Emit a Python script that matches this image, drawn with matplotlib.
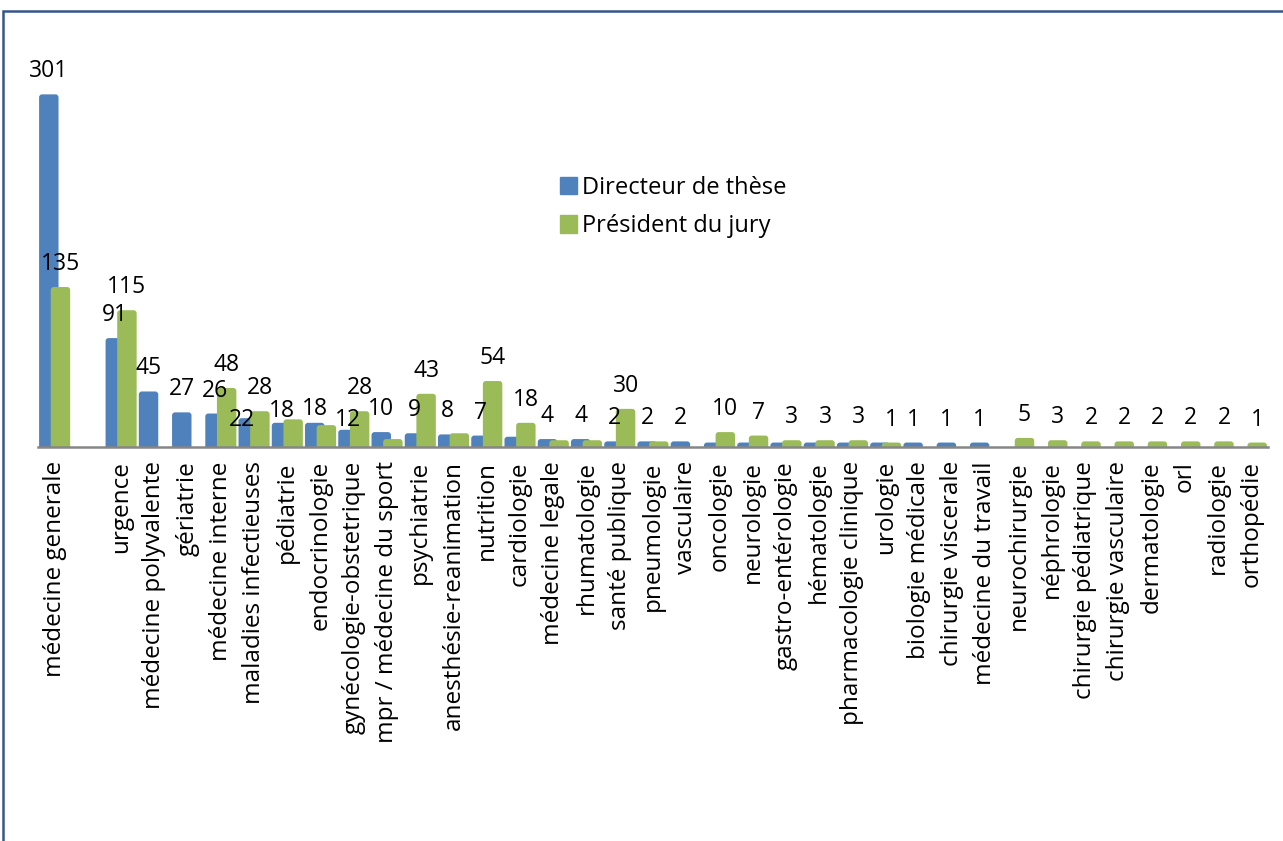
import numpy as np
import matplotlib
matplotlib.use("Agg")
import matplotlib.pyplot as plt
from matplotlib.patches import Rectangle, FancyBboxPatch

# ---------------- data ----------------
categories = ["médecine generale", "", "urgence", "médecine polyvalente", "gériatrie",
              "médecine interne", "maladies infectieuses", "pédiatrie", "endocrinologie",
              "gynécologie-obstetrique", "mpr / médecine du sport", "psychiatrie",
              "anesthésie-reanimation", "nutrition", "cardiologie", "médecine legale",
              "rhumatologie", "santé publique", "pneumologie", "vasculaire", "oncologie",
              "neurologie", "gastro-entérologie", "hématologie", "pharmacologie clinique",
              "urologie", "biologie médicale", "chirurgie viscerale", "médecine du travail",
              "neurochirurgie", "néphrologie", "chirurgie pédiatrique", "chirurgie vasculaire",
              "dermatologie", "orl", "radiologie", "orthopédie"]
directeur = [301, 0, 91, 45, 27, 26, 22, 18, 18, 12, 10, 9, 8, 7, 6, 4, 4, 2, 2, 2,
             1, 1, 1, 1, 1, 1, 1, 1, 1, 0, 0, 0, 0, 0, 0, 0, 0]
president = [135, 0, 115, 0, 0, 48, 28, 21, 16, 28, 4, 43, 9, 54, 18, 3, 3, 30, 2, 0,
             10, 7, 3, 3, 3, 1, 0, 0, 0, 5, 3, 2, 2, 2, 2, 2, 1]
series_names = ["Directeur de thèse", "Président du jury"]
# which bars carry a visible data label
directeur_labeled = [0, 2, 3, 4, 5, 6, 7, 8, 9, 10, 11, 12, 13, 15, 16, 17, 18, 19, 26, 27, 28]
president_labeled = [0, 2, 5, 6, 9, 11, 13, 14, 17, 20, 21, 22, 23, 24, 25,
                     29, 30, 31, 32, 33, 34, 35, 36]

# ---------------- style ----------------
BLUE = "#4F81BD"
GREEN = "#9BBB59"
FONT = ["Open Sans", "DejaVu Sans"]
FS_NUM = 16.5
FS_TICK = 17.5
FS_LEG = 17
plt.rcParams["font.family"] = FONT

W, H = 1283, 841
fig = plt.figure(figsize=(W / 100, H / 100), dpi=100)

ax_left, ax_right = 38, 1268
base_px = 447.3
scale = 1.1606          # pixels per unit
min_px = 3.6            # Excel draws non-zero bars with a small extra thickness
ytop = 321.0
top_px = base_px - ytop * scale
ax = fig.add_axes([ax_left / W, (H - base_px) / H, (ax_right - ax_left) / W,
                   (base_px - top_px) / H])

x = np.arange(len(categories))
off = 0.175
bw = 0.585
extra = min_px / scale
cat_px = (ax_right - ax_left) / len(categories)
rx = 3.0 / cat_px
ry = 3.0 / scale

b1 = ax.bar(x - off, directeur, width=bw, color=BLUE, zorder=2)
b2 = ax.bar(x + off, president, width=bw, color=GREEN, zorder=3)
for bars, col, z in ((b1, BLUE, 2), (b2, GREEN, 3)):
    for p in bars:
        h = p.get_height()
        p.set_visible(False)
        if h > 0:
            fb = FancyBboxPatch((p.get_x(), -ry), p.get_width(), h + extra + ry,
                                boxstyle=f"round,pad=0,rounding_size={rx}",
                                mutation_aspect=ry / rx, facecolor=col,
                                edgecolor="none", zorder=z)
            ax.add_patch(fb)

ax.set_xlim(-0.5, len(categories) - 0.5)
ax.set_ylim(0, ytop)

for s in ["top", "right", "left"]:
    ax.spines[s].set_visible(False)
ax.spines["bottom"].set_color("#868686")
ax.spines["bottom"].set_linewidth(1.8)
ax.spines["bottom"].set_zorder(5)
ax.set_yticks([])
ax.set_xticks(x)
ax.set_xticklabels(categories, rotation=90, fontsize=FS_TICK, family=FONT)
ax.tick_params(axis="x", length=0, pad=10)

PX = 0.72  # points per pixel
label_adj = {("d", 6): (-6, -25), ("d", 7): (0, -11), ("d", 8): (0, -9), ("d", 9): (0, -13)}

def put_labels(vals, idxs, dx_bar, key):
    for i in idxs:
        dx, dy = label_adj.get((key, i), (0, 0))
        ax.annotate(str(vals[i]), xy=(x[i] + dx_bar, vals[i] + extra),
                    xytext=(dx * PX, (23 + dy) * PX), textcoords="offset points",
                    ha="center", va="center", fontsize=FS_NUM, family=FONT,
                    annotation_clip=False, zorder=6)

put_labels(directeur, directeur_labeled, -off, "d")
put_labels(president, president_labeled, off, "p")

# legend
handles = [Rectangle((0, 0), 1, 1, color=BLUE), Rectangle((0, 0), 1, 1, color=GREEN)]
fig.legend(handles, series_names, loc="upper left",
           bbox_to_anchor=(543 / W, 1 - 159 / H), frameon=False,
           prop={"family": FONT, "size": FS_LEG}, handlelength=0.75, handleheight=0.75,
           handletextpad=0.2, labelspacing=0.62, borderpad=0.2)

# chart area border
fig.patches.append(Rectangle((3 / W, -0.05), 1.1, (H - 11) / H + 0.05,
                             transform=fig.transFigure, fill=False,
                             edgecolor="#34568B", linewidth=1.8))

fig.savefig("out.png", dpi=100, facecolor="white")
